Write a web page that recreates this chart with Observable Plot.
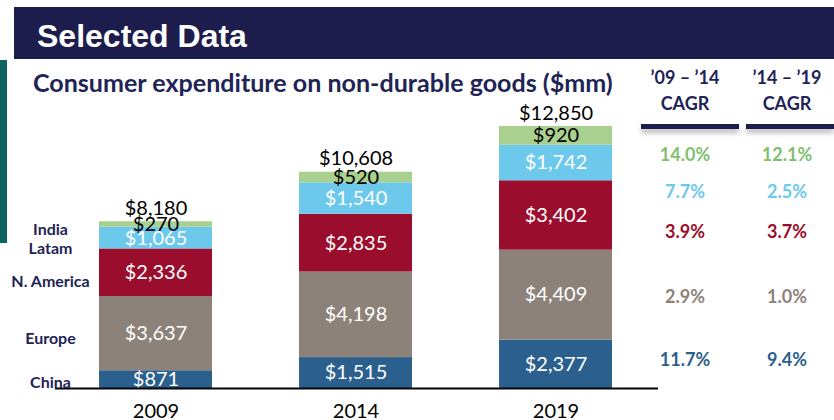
<!DOCTYPE html>
<html><head><meta charset="utf-8">
<script src="https://cdn.jsdelivr.net/npm/d3@7"></script>
<script src="https://cdn.jsdelivr.net/npm/@observablehq/plot@0.6"></script>
<style>
html,body{margin:0;padding:0;background:#fff}
body{width:834px;height:420px;overflow:hidden;position:relative;font-family:Lato,sans-serif}
#hdr{position:absolute;left:14px;top:7px;width:820px;height:52px;background:#1d1d4d}
#hdr span{position:absolute;left:23px;top:13px;color:#fff;font:bold 32px/32px "Liberation Sans",Arial,sans-serif;white-space:nowrap}
#teal{position:absolute;left:0;top:60px;width:7px;height:183px;background:#0b6461}
#title{position:absolute;left:33px;top:73px;font-weight:bold;font-size:22px;line-height:1;color:#1f2456;white-space:nowrap}
#chart{position:absolute;left:0;top:100px}
.t{position:absolute;width:110px;margin-left:-55px;text-align:center;font-weight:bold;line-height:1;white-space:nowrap}
.ul{position:absolute;height:5px;top:124px;background:#1d1d4d;box-shadow:0 4px 5px rgba(0,0,0,0.28)}
</style></head>
<body>
<div id="hdr"><span id="hdrText"></span></div>
<div id="teal"></div>
<div id="title"></div>
<div id="chart"></div>
<div id="cagr"></div>
<script>
// ---- data ----
const headerText = "Selected Data";
const titleText = "Consumer expenditure on non-durable goods ($mm)";
const years = ["2009", "2014", "2019"];
const regions = ["China", "Europe", "N. America", "Latam", "India"];
const china = [871, 1515, 2377];
const europe = [3637, 4198, 4409];
const nAmerica = [2336, 2835, 3402];
const latam = [1065, 1540, 1742];
const india = [270, 520, 920];
const totals = [8180, 10608, 12850];
const cagrHeaders = ["\u201909 \u2013 \u201914", "\u201914 \u2013 \u201919"];
const cagr0914 = ["11.7%", "2.9%", "3.9%", "7.7%", "14.0%"];
const cagr1419 = ["9.4%", "1.0%", "3.7%", "2.5%", "12.1%"];

// ---- styles ----
const barColors = ["#2b5f8e", "#8c8279", "#9b0d2c", "#6cc9ec", "#a9d08e"];
const cagrColors = ["#2b5f8e", "#8c8279", "#9b0d2c", "#6cc9ec", "#7fbf6f"];
const regionLabelNudge = [3, 5, 9, 11, 5];
const cagrRowBaselines = [366, 303, 238, 198, 161];
const cagrColX = [685, 787];

document.getElementById("hdrText").textContent = headerText;
const titleEl = document.getElementById("title");
titleEl.textContent = titleText;
// fit title to reference width
const targetW = 580;
let fs = 22;
titleEl.style.fontSize = fs + "px";
fs = fs * targetW / titleEl.getBoundingClientRect().width;
titleEl.style.fontSize = fs + "px";
titleEl.style.top = (92 - 0.887 * fs) + "px";

const series = [china, europe, nAmerica, latam, india];
const data = [];
years.forEach((y, i) => regions.forEach((r, j) => data.push({year: y, region: r, value: series[j][i]})));
const totalData = years.map((y, i) => ({year: y, total: totals[i]}));
const fmt = d3.format(",");
const first = data.filter(d => d.year === years[0]);

const marks = [
  Plot.barY(data, {x: "year", y: "value", fill: "region"}),
  Plot.text(data, Plot.stackY({x: "year", y: "value", text: d => d.region === "India" ? null : "$" + fmt(d.value), fill: "white", fontSize: 20})),
  Plot.text(data, Plot.stackY({x: "year", y: "value", text: d => d.region === "India" ? "$" + fmt(d.value) : null, fill: "black", fontSize: 20})),
  Plot.text(totalData, {x: "year", y: "total", text: d => "$" + fmt(d.total), fill: "black", fontSize: 20, lineAnchor: "bottom", dy: -7}),
  Plot.ruleY([0], {stroke: "black", strokeWidth: 2, insetLeft: 44, insetRight: 43}),
  Plot.axisX({tickSize: 0, tickPadding: 15, fontSize: 20, fill: "black", label: null})
];
regions.forEach((r, j) => {
  marks.push(Plot.text(first, Plot.stackY({y: "value", text: d => d.region === r ? d.region : null, frameAnchor: "left", textAnchor: "middle", dx: 39, dy: regionLabelNudge[j], fill: "#1f2456", fontWeight: "bold", fontSize: 16})));
});

const chart = Plot.plot({
  width: 834,
  height: 320,
  marginLeft: 11,
  marginRight: 133,
  marginTop: 26,
  marginBottom: 32,
  style: {fontFamily: "Lato, sans-serif", fontSize: "20px", color: "black", background: "transparent", overflow: "visible"},
  x: {domain: years, paddingInner: 0.433, paddingOuter: 0.433, axis: null},
  y: {domain: [0, 12850], axis: null},
  color: {domain: regions, range: barColors},
  marks
});
document.getElementById("chart").appendChild(chart);

// CAGR table
const cagr = document.getElementById("cagr");
function addText(txt, x, baseline, size, color) {
  const el = document.createElement("div");
  el.className = "t";
  el.textContent = txt;
  el.style.left = x + "px";
  el.style.fontSize = size + "px";
  el.style.color = color;
  el.style.top = (baseline - 0.887 * size) + "px";
  cagr.appendChild(el);
}
cagrHeaders.forEach((h, i) => {
  addText(h, cagrColX[i], 84, 18, "#1f2456");
  addText("CAGR", cagrColX[i], 110, 18, "#1f2456");
});
[[641, 98], [746, 88]].forEach(([l, w]) => {
  const u = document.createElement("div");
  u.className = "ul"; u.style.left = l + "px"; u.style.width = w + "px";
  cagr.appendChild(u);
});
regions.forEach((r, j) => {
  addText(cagr0914[j], cagrColX[0], cagrRowBaselines[j], 18, cagrColors[j]);
  addText(cagr1419[j], cagrColX[1], cagrRowBaselines[j], 18, cagrColors[j]);
});
</script>
</body></html>
